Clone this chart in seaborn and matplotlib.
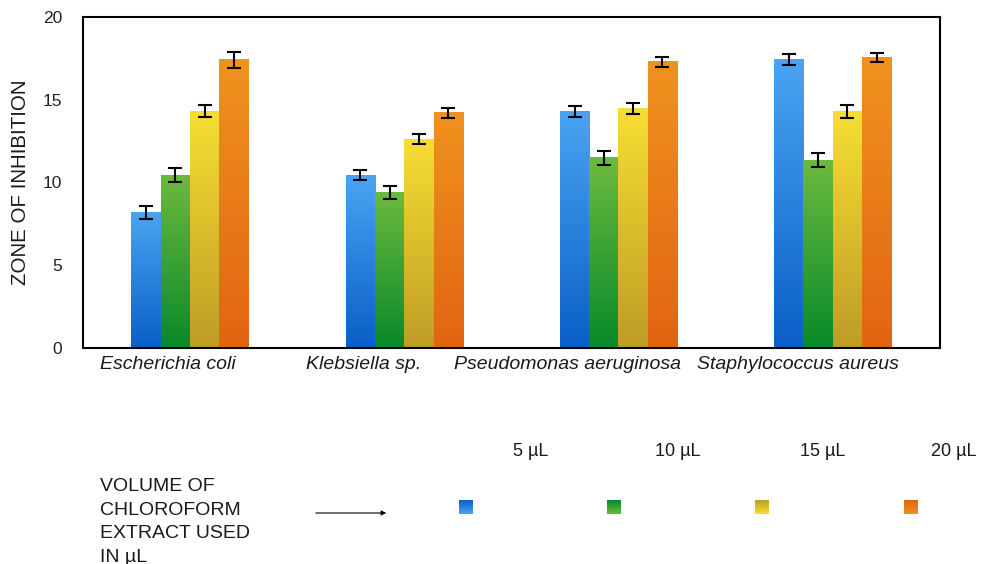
import numpy as np
import pandas as pd
import matplotlib
matplotlib.use("Agg")
import matplotlib.pyplot as plt
import matplotlib.transforms as mtransforms
import seaborn as sns
from matplotlib.colors import LinearSegmentedColormap

# values
organisms = ["Escherichia coli", "Klebsiella sp.", "Pseudomonas aeruginosa", "Staphylococcus aureus"]
volumes = ["5 µL", "10 µL", "15 µL", "20 µL"]
zone_5 = [8.2, 10.45, 14.3, 17.4]
zone_10 = [10.45, 9.4, 11.5, 11.35]
zone_15 = [14.3, 12.6, 14.45, 14.3]
zone_20 = [17.4, 14.2, 17.3, 17.55]
err_5 = [0.4, 0.3, 0.33, 0.33]
err_10 = [0.45, 0.37, 0.42, 0.4]
err_15 = [0.35, 0.3, 0.33, 0.4]
err_20 = [0.5, 0.3, 0.3, 0.27]

# gradient colours per volume (bottom, top)
grad_colors = {
    "5 µL": ("#0a5ec6", "#4ba4f2"),
    "10 µL": ("#08892a", "#6cba3e"),
    "15 µL": ("#bf9c26", "#f7de32"),
    "20 µL": ("#e26412", "#f0921f"),
}

df = pd.DataFrame({
    "organism": organisms * 4,
    "volume": np.repeat(volumes, 4),
    "zone": zone_5 + zone_10 + zone_15 + zone_20,
    "err": err_5 + err_10 + err_15 + err_20,
})

sns.set_style("white")
plt.rcParams["font.family"] = ["Liberation Sans", "DejaVu Sans"]
plt.rcParams["text.color"] = "#1a1a1a"

fig = plt.figure(figsize=(9.82, 5.64), dpi=100)
ax = fig.add_axes([0.0845, 0.383, 0.8725, 0.587])

palette = {v: grad_colors[v][1] for v in volumes}
sns.barplot(data=df, x="organism", y="zone", hue="volume", order=organisms,
            hue_order=volumes, palette=palette, width=0.547, gap=0,
            errorbar=None, legend=False, saturation=1, ax=ax)

# gradient fill and error bars for each bar (patches come hue by hue)
bars = [p for p in ax.patches]
grad = np.linspace(0, 1, 256).reshape(-1, 1)
for i, p in enumerate(bars):
    vol = volumes[i // 4]
    row = df[(df.volume == vol) & (df.organism == organisms[i % 4])].iloc[0]
    cmap = LinearSegmentedColormap.from_list(vol, grad_colors[vol])
    x0 = p.get_x()
    w = p.get_width()
    h = p.get_height()
    ax.imshow(grad, cmap=cmap, origin="lower", aspect="auto",
              extent=[x0, x0 + w, 0, h], zorder=2)
    p.set_visible(False)
    ax.errorbar(x0 + w / 2, h, yerr=row.err, fmt="none", ecolor="black",
                elinewidth=1.5, capsize=5, capthick=1.5, zorder=3)

ax.set_xlim(-0.5, 3.5)
ax.set_ylim(0, 20)
ax.set_yticks([0, 5, 10, 15, 20])
ax.tick_params(axis="y", length=0, pad=15, labelsize=12.5, labelcolor="#222222")
ax.tick_params(axis="x", length=0, pad=6, labelcolor="#1a1a1a")
# the category labels sit a little left of their bar groups
shifts = [-22, -41, -51, -35]
for lab, dx in zip(ax.get_xticklabels(), shifts):
    lab.set_fontstyle("italic")
    lab.set_fontsize(14)
    lab.set_transform(lab.get_transform() +
                      mtransforms.ScaledTranslation(dx / 100, 0, fig.dpi_scale_trans))
ax.set_xlabel("")
ax.set_ylabel("ZONE OF INHIBITION", fontsize=14.8, color="#1a1a1a")
ax.yaxis.set_label_coords(-0.062, 0.5)
for s in ax.spines.values():
    s.set_visible(True)
    s.set_color("black")
    s.set_linewidth(1.5)

# custom legend below the chart, in pixel coordinates
lg = fig.add_axes([0, 0, 1, 1], zorder=-1)
lg.axis("off")
lg.patch.set_alpha(0)

lg.text(100, 522, "VOLUME OF\nCHLOROFORM\nEXTRACT USED\nIN µL", fontsize=14,
        va="center", ha="left", linespacing=1.5)
lg.annotate("", xy=(389, 513), xytext=(313, 513),
            arrowprops=dict(arrowstyle="-|>", color="black", lw=0.8,
                            mutation_scale=7))

sq_x = [459, 607, 755, 904]
lab_x = [531, 678, 823, 954]
for vol, sx, lx in zip(volumes, sq_x, lab_x):
    cmap = LinearSegmentedColormap.from_list(vol, grad_colors[vol])
    lg.imshow(grad, cmap=cmap, origin="upper", aspect="auto",
              extent=[sx, sx + 14, 514, 500])
    lg.text(lx, 452, vol, fontsize=13, ha="center", va="center")
lg.set_xlim(0, 982)
lg.set_ylim(564, 0)

fig.savefig("out.png", dpi=100)
